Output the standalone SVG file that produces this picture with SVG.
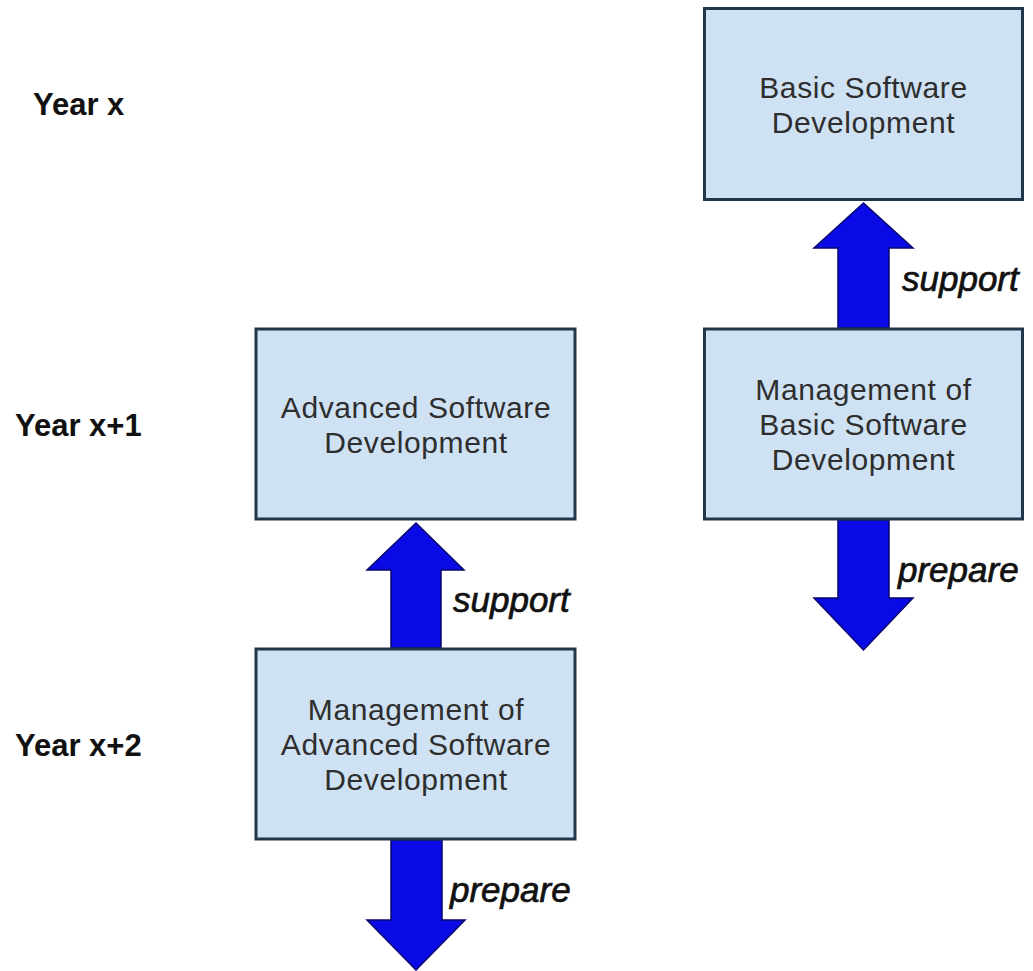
<svg xmlns="http://www.w3.org/2000/svg" width="1033" height="971" viewBox="0 0 1033 971">
<style>
.box{fill:#cfe2f3;stroke:#22374b;stroke-width:3}
.bt{font-family:"Liberation Sans",Arial,sans-serif;font-size:30px;fill:#2e2e2e;text-anchor:middle;letter-spacing:0.6px}
.yr{font-family:"Liberation Sans",Arial,sans-serif;font-size:31px;font-weight:bold;fill:#111}
.lbl{font-family:"Liberation Sans",Arial,sans-serif;font-size:35px;font-style:italic;fill:#111;stroke:#111;stroke-width:0.7}
.arr{fill:#0a0ae6;stroke:#06066e;stroke-width:1.5;stroke-linejoin:miter}
</style>
<rect width="1033" height="971" fill="#ffffff"/>
<g id="years">
<text class="yr" x="33" y="115">Year x</text>
<text class="yr" x="15" y="436">Year x+1</text>
<text class="yr" x="15" y="756">Year x+2</text>
</g>
<g id="connectors">
<polygon class="arr" points="863.5,203 913,248 889,248 889,328 838,328 838,248 814,248"/>
<polygon class="arr" points="838,520 889,520 889,598 913,598 863.5,650 814,598 838,598"/>
<polygon class="arr" points="416,523 464,570 441,570 441,648 391,648 391,570 367,570"/>
<polygon class="arr" points="391,840 442,840 442,920 465,920 416,970 367,920 391,920"/>
<text class="lbl" x="902" y="291">support</text>
<text class="lbl" x="898" y="582">prepare</text>
<text class="lbl" x="453" y="612">support</text>
<text class="lbl" x="450" y="902">prepare</text>
</g>
<g id="basic-dev">
<rect class="box" x="704.5" y="8.5" width="318" height="191"/>
<text class="bt" x="863.5" y="98">Basic Software</text>
<text class="bt" x="863.5" y="133">Development</text>
</g>
<g id="mgmt-basic-dev">
<rect class="box" x="704.5" y="329" width="318" height="190"/>
<text class="bt" x="863.5" y="400">Management of</text>
<text class="bt" x="863.5" y="435">Basic Software</text>
<text class="bt" x="863.5" y="470">Development</text>
</g>
<g id="advanced-dev">
<rect class="box" x="256" y="329" width="319" height="190"/>
<text class="bt" x="416" y="418">Advanced Software</text>
<text class="bt" x="416" y="453">Development</text>
</g>
<g id="mgmt-advanced-dev">
<rect class="box" x="256" y="649" width="319" height="190"/>
<text class="bt" x="416" y="720">Management of</text>
<text class="bt" x="416" y="755">Advanced Software</text>
<text class="bt" x="416" y="790">Development</text>
</g>
</svg>
